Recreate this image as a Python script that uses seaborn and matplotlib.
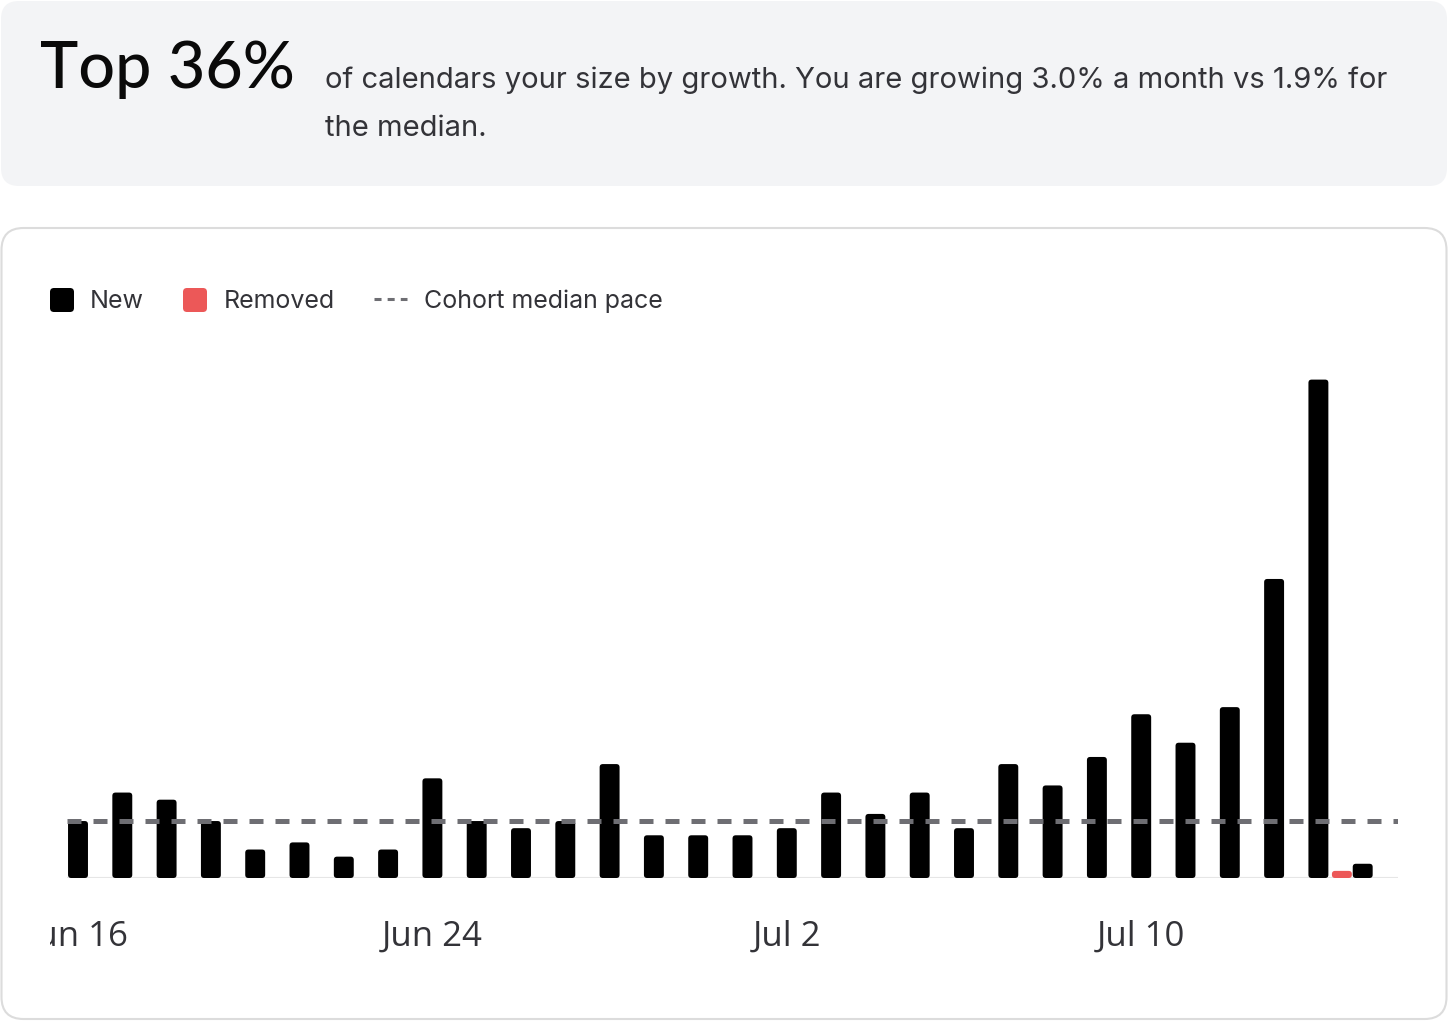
import numpy as np
import pandas as pd
import matplotlib.pyplot as plt
import seaborn as sns
from matplotlib.patches import FancyBboxPatch
from matplotlib.lines import Line2D
from matplotlib.transforms import Bbox, TransformedBbox

# data
days = pd.date_range("2025-06-16", "2025-07-15", freq="D")
day_labels = [f"{d:%b} {d.day}" for d in days]
new_counts = [8, 12, 11, 8, 4, 5, 3, 4, 14, 8, 7, 8, 16, 6, 6,
              6, 7, 12, 9, 12, 7, 16, 13, 17, 23, 19, 24, 42, 70, 2]
removed_counts = [0] * 29 + [1]
median_pace = 8
tick_labels = ["Jun 16", "Jun 24", "Jul 2", "Jul 10"]

headline = "Top 36%"
blurb = ["of calendars your size by growth. You are growing 3.0% a month vs 1.9% for",
         "the median."]

BLACK = "#000000"
RED = "#ec5858"
DASH = "#6e6e73"
TXT = "#333338"

sns.set_theme(style="white")
plt.rcParams["font.family"] = ["Inter", "DejaVu Sans"]

W, H = 1448, 1022
fig = plt.figure(figsize=(W / 100, H / 100), dpi=100)
fig.patch.set_facecolor("white")

# background layer in pixel coords
bg = fig.add_axes([0, 0, 1, 1])
bg.set_xlim(0, W)
bg.set_ylim(H, 0)
bg.axis("off")
bg.add_patch(FancyBboxPatch((1, 1), W - 2, 185, boxstyle="round,pad=0,rounding_size=18",
                            fc="#f3f4f6", ec="none"))
bg.add_patch(FancyBboxPatch((1.5, 228), W - 3, 791, boxstyle="round,pad=0,rounding_size=22",
                            fc="white", ec="#dcdcdc", lw=1.5))

bg.text(40, 88, headline, fontsize=46.5, fontweight="medium", color="#0a0a0a", va="baseline",
        family=["Lato", "DejaVu Sans"])
bg.text(325, 88, blurb[0], fontsize=21, color=TXT, va="baseline")
bg.text(325, 136, blurb[1], fontsize=21, color=TXT, va="baseline")

# legend
bg.add_patch(FancyBboxPatch((50, 288), 24, 24, boxstyle="round,pad=0,rounding_size=4",
                            fc=BLACK, ec="none"))
bg.text(90, 301, "New", fontsize=18, color=TXT, va="center")
bg.add_patch(FancyBboxPatch((183, 288), 24, 24, boxstyle="round,pad=0,rounding_size=4",
                            fc=RED, ec="none"))
bg.text(224, 301, "Removed", fontsize=18, color=TXT, va="center")
bg.add_line(Line2D([374, 407], [299, 299], color=DASH, lw=2.2, dashes=(2.3, 2.0),
                   solid_capstyle="butt", dash_capstyle="butt"))
bg.text(424, 301, "Cohort median pace", fontsize=18, color=TXT, va="center")

# chart
ax_left, ax_right, ax_base, ax_top = 50, 1398, 878, 340
ax = fig.add_axes([ax_left / W, (H - ax_base) / H, (ax_right - ax_left) / W, (ax_base - ax_top) / H])
ax.set_facecolor("none")

px_day = 44.3
px_unit = 7.12
bar_w = 0.45

sns.barplot(x=day_labels, y=new_counts, color=BLACK, saturation=1, width=bar_w, ax=ax)
pos = np.arange(len(day_labels))
rem = np.array(removed_counts)
mask = rem > 0
ax.bar(pos[mask] - bar_w - 0.02, rem[mask], width=bar_w, color=RED)

x0 = -(78 - ax_left) / px_day
x1 = (ax_right - 78) / px_day
ax.set_xlim(x0, x1)
ax.set_ylim(0, (ax_base - ax_top) / px_unit)

# rounded bars
r = 3.2 / px_day
asp = px_day / px_unit
for p in list(ax.patches):
    rb = FancyBboxPatch((p.get_x(), p.get_y()), p.get_width(), p.get_height(),
                        boxstyle=f"round,pad=0,rounding_size={r}", mutation_aspect=asp,
                        fc=p.get_facecolor(), ec="none", zorder=2)
    p.remove()
    ax.add_patch(rb)

ax.hlines(0, -0.25, x1, color="#e6e6e6", lw=1.5, zorder=1)
ax.hlines(median_pace, -0.25, x1, color=DASH, lw=3.6, linestyles=(0, (2.8, 2.4)), zorder=3)

sns.despine(ax=ax, left=True, bottom=True)
ax.set_yticks([])
ax.set_xlabel("")
ax.set_ylabel("")
ax.set_xticks([day_labels.index(t) for t in tick_labels], tick_labels)
ax.tick_params(axis="x", length=0, pad=30, labelsize=25, labelcolor=TXT)
clip = TransformedBbox(Bbox([[ax_left / W, 0], [1, 1]]), fig.transFigure)
for lbl in ax.get_xticklabels():
    lbl.set_fontfamily(["Open Sans", "DejaVu Sans"])
    lbl.set_clip_box(clip)
    lbl.set_clip_on(True)

fig.savefig("out.png", dpi=100)
